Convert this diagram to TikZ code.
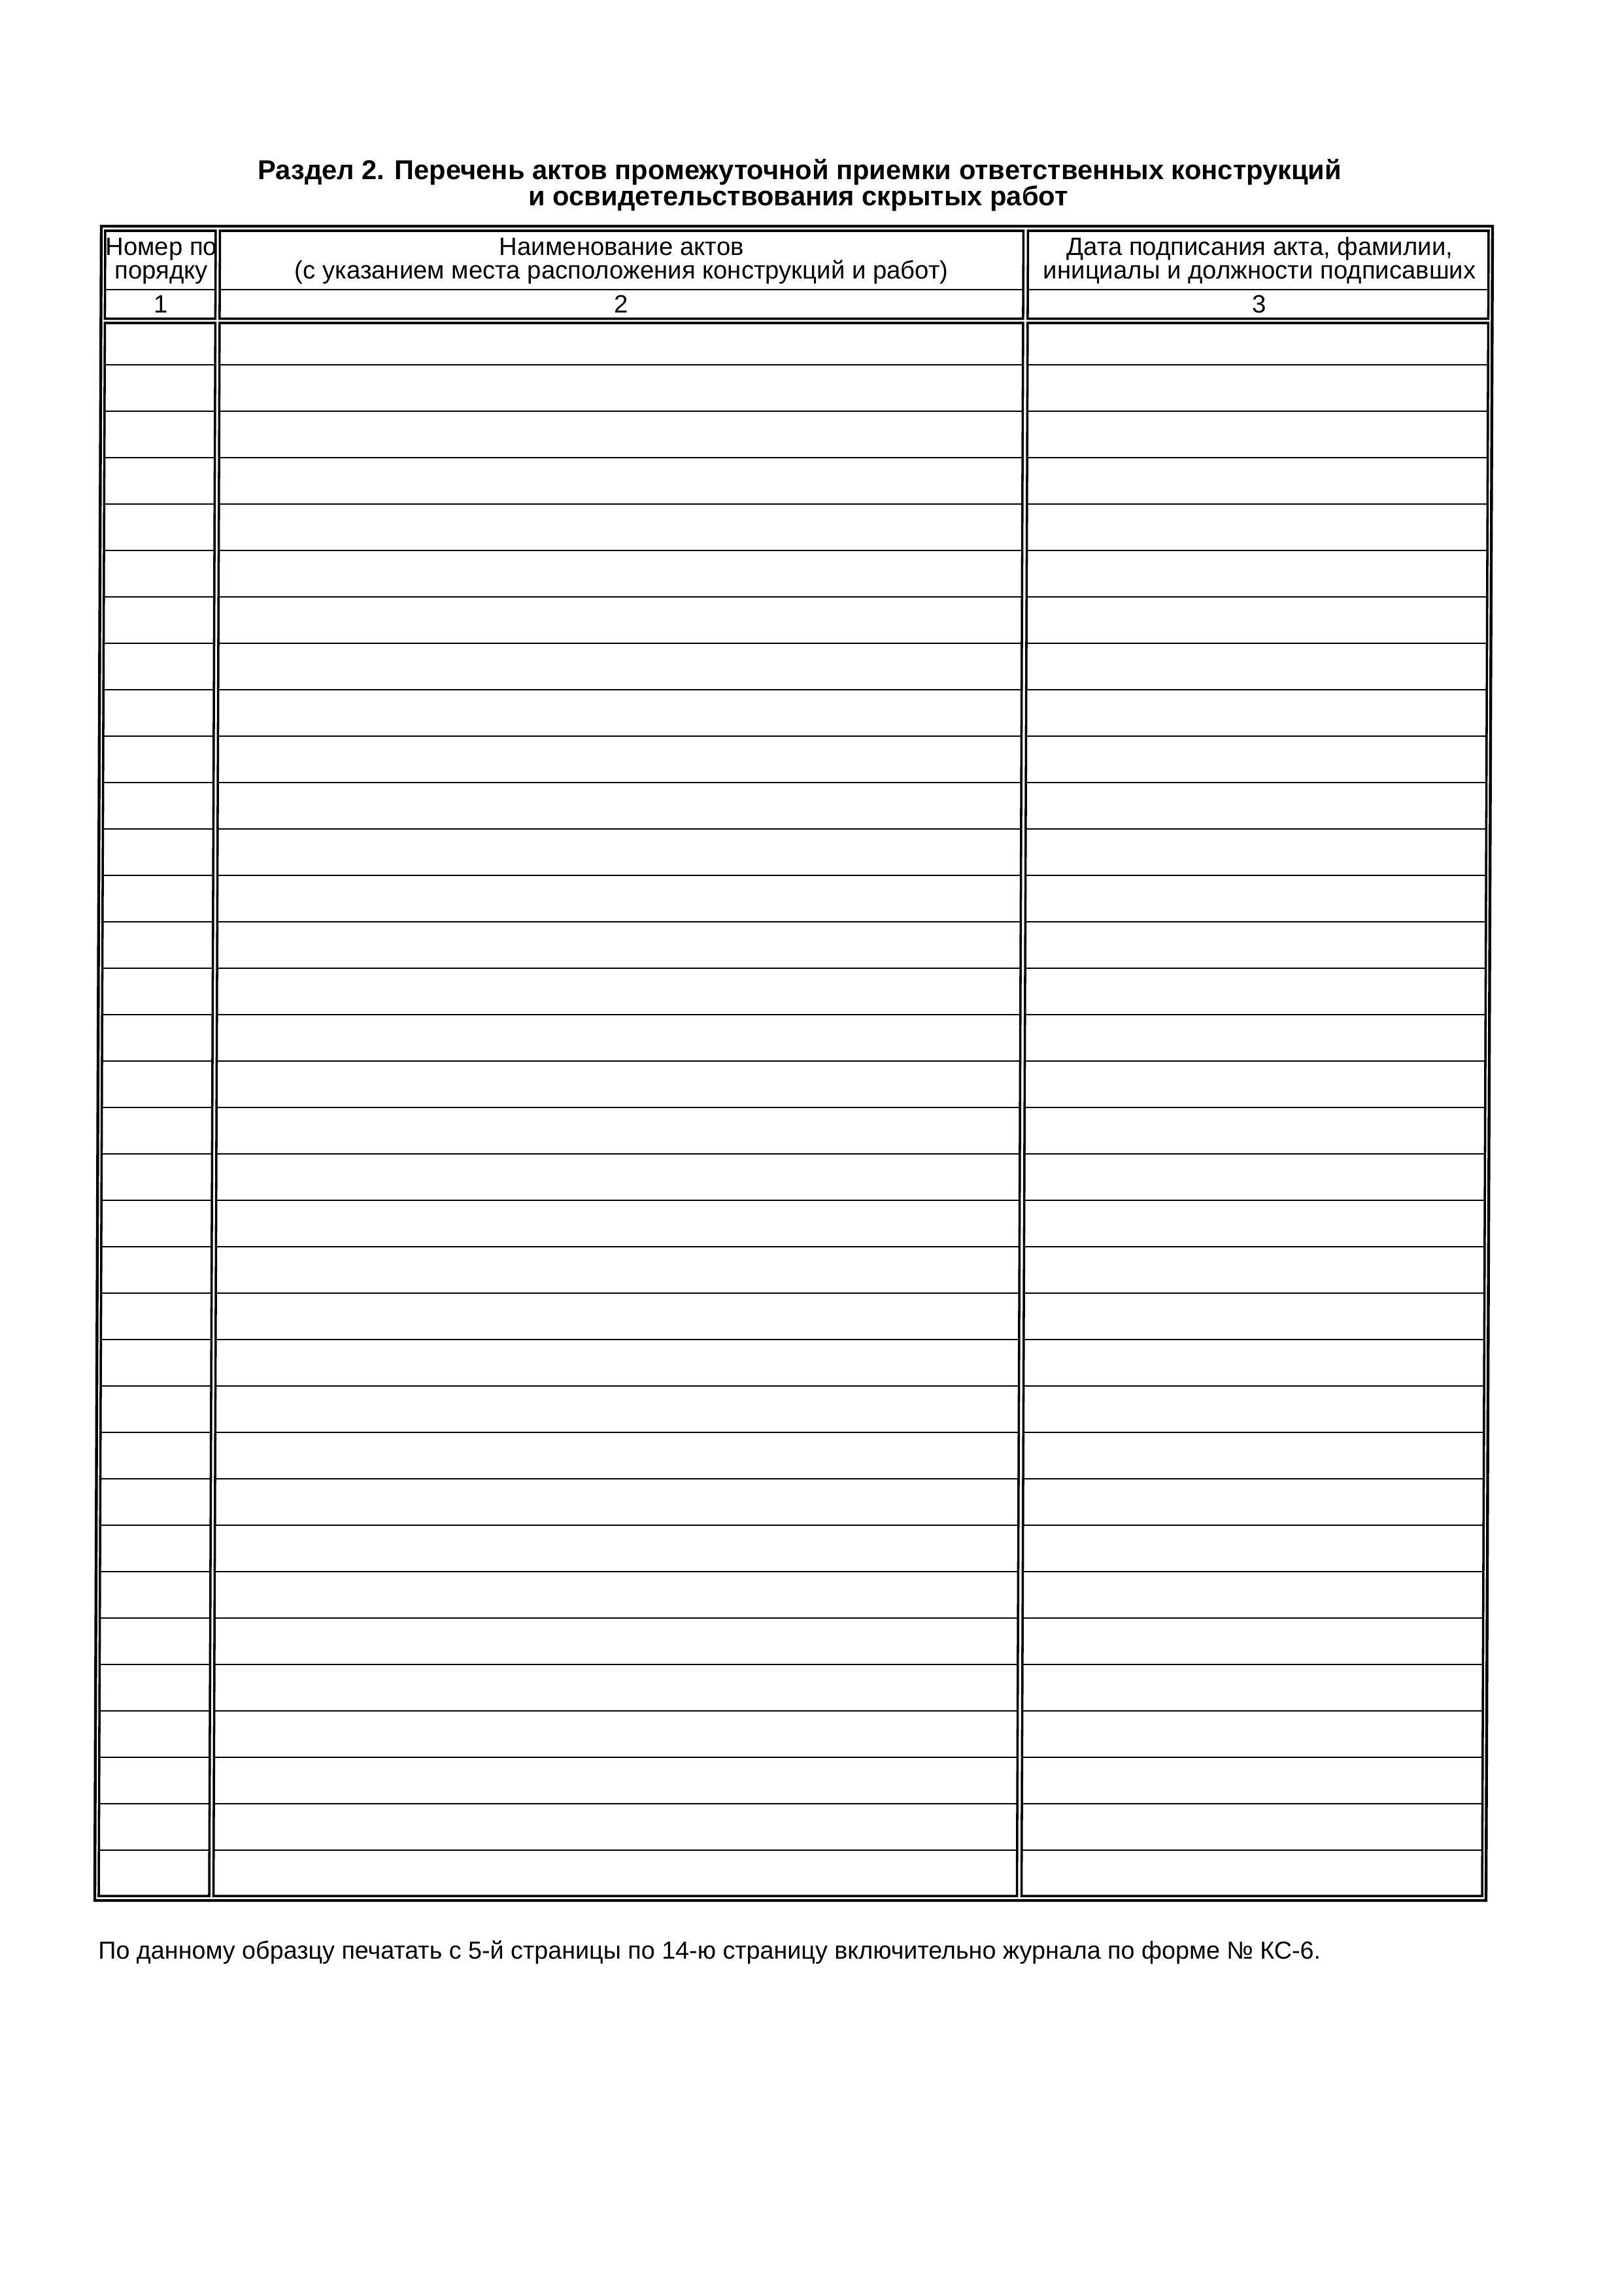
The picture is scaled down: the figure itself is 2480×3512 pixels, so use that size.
\documentclass[tikz,border=0pt]{standalone}
\usepackage{fontspec}
\setmainfont{Liberation Sans}
\begin{document}
\begin{tikzpicture}[x=0.24pt,y=-0.24pt,
  outerframe/.style={line width=1.05pt},
  cellframe/.style={line width=0.85pt},
  rowrule/.style={line width=0.6pt},
  headtext/.style={inner sep=0pt, anchor=base, font=\fontsize{9.2}{10}\selectfont},
  titletext/.style={inner sep=0pt, anchor=base, font=\bfseries\fontsize{10}{12}\selectfont},
  foottext/.style={inner sep=0pt, anchor=base west, font=\fontsize{9.05}{10}\selectfont}]
\useasboundingbox[fill=white] (0,0) rectangle (2480,3512);
\begin{scope}[xshift=1.52pt]
\begin{scope}[xslant=0.0039]
  \node[titletext] (title1) at (1218,274) {Раздел 2. Перечень актов промежуточной приемки ответственных конструкций};
  \node[titletext] (title2) at (1216,314) {и освидетельствования скрытых работ};
  \draw[outerframe] (150,346) rectangle (2278,2907);
  \foreach \l/\r in {156/325,331.5/1560.5,1567.5/2272} {
    \draw[cellframe] (\l,353) rectangle (\r,487.5);
    \draw[rowrule] (\l,443) -- (\r,443);
    \draw[cellframe] (\l,494) rectangle (\r,2900);
    \foreach \k in {0,...,32} \draw[rowrule] (\l,{558+\k*71.0}) -- (\r,{558+\k*71.0});
  }
  \node[headtext] (h1a) at (242,390) {Номер по};
  \node[headtext] (h1b) at (242,426) {порядку};
  \node[headtext] (h2a) at (946,390) {Наименование актов};
  \node[headtext] (h2b) at (946,426) {(с указанием места расположения конструкций и работ)};
  \node[headtext] (h3a) at (1922,390) {Дата подписания акта, фамилии,};
  \node[headtext] (h3b) at (1922,426) {инициалы и должности подписавших};
  \node[headtext] (n1) at (242,478) {1};
  \node[headtext] (n2) at (946,478) {2};
  \node[headtext] (n3) at (1922,478) {3};
  \node[foottext] (foot) at (155,2996) {По данному образцу печатать с 5-й страницы по 14-ю страницу включительно журнала по форме № КС-6.};
\end{scope}
\end{scope}
\end{tikzpicture}
\end{document}
